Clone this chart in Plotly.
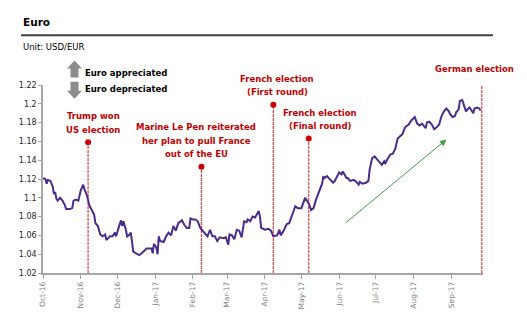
import plotly.graph_objects as go

# ---------------- data ----------------
dates = [
    "2016-10-01", "2016-10-03", "2016-10-04", "2016-10-05", "2016-10-07", "2016-10-09", "2016-10-10",
    "2016-10-11", "2016-10-12", "2016-10-13", "2016-10-15", "2016-10-17", "2016-10-19", "2016-10-20",
    "2016-10-23", "2016-10-25", "2016-10-26", "2016-10-28", "2016-10-30", "2016-11-01", "2016-11-03",
    "2016-11-04", "2016-11-06", "2016-11-08", "2016-11-10", "2016-11-12", "2016-11-13", "2016-11-15",
    "2016-11-17", "2016-11-19", "2016-11-21", "2016-11-22", "2016-11-25", "2016-11-27", "2016-11-29",
    "2016-11-30", "2016-12-02", "2016-12-04", "2016-12-05", "2016-12-06", "2016-12-08", "2016-12-09",
    "2016-12-11", "2016-12-12", "2016-12-13", "2016-12-14", "2016-12-16", "2016-12-19", "2016-12-21",
    "2016-12-23", "2016-12-25", "2016-12-29", "2016-12-30", "2016-12-31", "2017-01-02", "2017-01-03",
    "2017-01-04", "2017-01-05", "2017-01-08", "2017-01-10", "2017-01-12", "2017-01-14", "2017-01-16",
    "2017-01-18", "2017-01-20", "2017-01-23", "2017-01-25", "2017-01-27", "2017-01-29", "2017-01-30",
    "2017-02-01", "2017-02-03", "2017-02-05", "2017-02-07", "2017-02-09", "2017-02-12", "2017-02-13",
    "2017-02-15", "2017-02-17", "2017-02-19", "2017-02-21", "2017-02-23", "2017-02-26", "2017-02-28",
    "2017-03-02", "2017-03-03", "2017-03-05", "2017-03-07", "2017-03-09", "2017-03-11", "2017-03-13",
    "2017-03-15", "2017-03-17", "2017-03-18", "2017-03-20", "2017-03-22", "2017-03-24", "2017-03-27",
    "2017-03-28", "2017-03-29", "2017-04-01", "2017-04-04", "2017-04-06", "2017-04-08", "2017-04-11",
    "2017-04-13", "2017-04-14", "2017-04-16", "2017-04-19", "2017-04-21", "2017-04-24", "2017-04-26",
    "2017-04-28", "2017-05-01", "2017-05-04", "2017-05-07", "2017-05-09", "2017-05-11", "2017-05-13",
    "2017-05-16", "2017-05-18", "2017-05-19", "2017-05-20", "2017-05-22", "2017-05-24", "2017-05-27",
    "2017-05-28", "2017-05-30", "2017-06-01", "2017-06-03", "2017-06-04", "2017-06-07", "2017-06-08",
    "2017-06-10", "2017-06-13", "2017-06-15", "2017-06-17", "2017-06-18", "2017-06-20", "2017-06-23",
    "2017-06-25", "2017-06-26", "2017-06-28", "2017-06-30", "2017-07-02", "2017-07-04", "2017-07-06",
    "2017-07-08", "2017-07-09", "2017-07-11", "2017-07-13", "2017-07-15", "2017-07-17", "2017-07-19",
    "2017-07-21", "2017-07-23", "2017-07-25", "2017-07-28", "2017-07-30", "2017-08-01", "2017-08-02",
    "2017-08-04", "2017-08-06", "2017-08-08", "2017-08-09", "2017-08-11", "2017-08-12", "2017-08-14",
    "2017-08-16", "2017-08-18", "2017-08-20", "2017-08-22", "2017-08-24", "2017-08-26", "2017-08-28",
    "2017-08-30", "2017-08-31", "2017-09-02", "2017-09-04", "2017-09-05", "2017-09-07", "2017-09-08",
    "2017-09-10", "2017-09-11", "2017-09-13", "2017-09-15", "2017-09-16", "2017-09-18", "2017-09-19",
    "2017-09-20", "2017-09-22", "2017-09-24", "2017-09-25",
]
rates = [
    1.121, 1.120, 1.115, 1.119, 1.118, 1.112, 1.104,
    1.106, 1.099, 1.097, 1.100, 1.097, 1.092, 1.088,
    1.088, 1.089, 1.097, 1.098, 1.097, 1.108, 1.114,
    1.109, 1.103, 1.092, 1.087, 1.082, 1.073, 1.070,
    1.061, 1.059, 1.061, 1.055, 1.059, 1.059, 1.063,
    1.059, 1.068, 1.076, 1.070, 1.075, 1.066, 1.059,
    1.061, 1.063, 1.054, 1.043, 1.041, 1.039, 1.041,
    1.044, 1.046, 1.046, 1.041, 1.051, 1.047, 1.040,
    1.059, 1.054, 1.053, 1.059, 1.063, 1.060, 1.070,
    1.065, 1.073, 1.076, 1.071, 1.068, 1.068, 1.078,
    1.077, 1.077, 1.075, 1.068, 1.065, 1.061, 1.059,
    1.066, 1.059, 1.059, 1.054, 1.058, 1.057, 1.058,
    1.050, 1.061, 1.060, 1.056, 1.066, 1.065, 1.058,
    1.075, 1.074, 1.077, 1.075, 1.080, 1.079, 1.086,
    1.080, 1.068, 1.066, 1.067, 1.065, 1.059, 1.060,
    1.066, 1.060, 1.064, 1.072, 1.073, 1.084, 1.091,
    1.089, 1.089, 1.100, 1.094, 1.087, 1.089, 1.098,
    1.108, 1.115, 1.123, 1.121, 1.123, 1.120, 1.116,
    1.117, 1.122, 1.127, 1.125, 1.128, 1.121, 1.121,
    1.118, 1.119, 1.117, 1.114, 1.117, 1.115, 1.116,
    1.118, 1.130, 1.142, 1.144, 1.141, 1.137, 1.135,
    1.139, 1.137, 1.142, 1.146, 1.147, 1.152, 1.163,
    1.165, 1.168, 1.175, 1.178, 1.182, 1.185, 1.186,
    1.179, 1.177, 1.179, 1.177, 1.174, 1.180, 1.181,
    1.178, 1.173, 1.175, 1.178, 1.187, 1.192, 1.195,
    1.192, 1.189, 1.186, 1.187, 1.191, 1.194, 1.203,
    1.204, 1.199, 1.192, 1.195, 1.196, 1.192, 1.190,
    1.195, 1.196, 1.195, 1.193,
]

tick_dates = ["2016-10-01", "2016-11-01", "2016-12-01", "2017-01-01", "2017-02-01", "2017-03-01",
              "2017-04-01", "2017-05-01", "2017-06-01", "2017-07-01", "2017-08-01", "2017-09-01"]
tick_labels = ["Oct-16", "Nov-16", "Dec-16", "Jan-17", "Feb-17", "Mar-17",
               "Apr-17", "May-17", "Jun-17", "Jul-17", "Aug-17", "Sep-17"]
y_ticks = [1.02, 1.04, 1.06, 1.08, 1.10, 1.12, 1.14, 1.16, 1.18, 1.20, 1.22]
y_tick_labels = ["1.02", "1.04", "1.06", "1.08", "1.1", "1.12", "1.14", "1.16", "1.18", "1.2", "1.22"]

event_dates = ["2016-11-07", "2017-02-08", "2017-04-08", "2017-05-07", "2017-09-26"]
event_tops = [1.159, 1.133, 1.199, 1.163, 1.224]
event_labels = [
    ["Trump won", "US election"],
    ["Marine Le Pen reiterated", "her plan to pull France", "out of the EU"],
    ["French election", "(First round)"],
    ["French election", "(Final round)"],
    ["German election"],
]

trend_start = ["2017-06-05", 1.072]
trend_end = ["2017-08-28", 1.162]

# ---------------- layout geometry / styles ----------------
FIG_W, FIG_H = 527, 321
ML, MR, MT, MB = 43, 44, 85, 43
PW, PH = FIG_W - ML - MR, FIG_H - MT - MB
Y_MIN, Y_MAX = 1.02, 1.22
X_RANGE = ["2016-10-01", "2017-09-27"]
label_xshift = [5, -5, 4, 11, -7]

FONT = "DejaVu Sans"
RED_TXT = "#C00000"
RED_LINE = "#F03A3A"
LINE_COL = "#4B2C8C"


def px(xp):
    return (xp - ML) / PW


def py(yp):
    return (FIG_H - MB - yp) / PH


fig = go.Figure()

# event lines
for d, top in zip(event_dates, event_tops):
    fig.add_trace(go.Scatter(
        x=[d, d], y=[Y_MIN, top], mode="lines",
        line=dict(color=RED_LINE, width=1.2, dash="3px,1px"),
        hoverinfo="skip", showlegend=False))

# main series
fig.add_trace(go.Scatter(
    x=dates, y=rates, mode="lines",
    line=dict(color=LINE_COL, width=2),
    showlegend=False))

# event dots
fig.add_trace(go.Scatter(
    x=event_dates, y=event_tops, mode="markers",
    marker=dict(color="#CC0000", size=6),
    cliponaxis=False, hoverinfo="skip", showlegend=False))

annotations = []
for d, top, lines, xs in zip(event_dates, event_tops, event_labels, label_xshift):
    for j, txt in enumerate(reversed(lines)):
        annotations.append(dict(
            x=d, xref="x", y=(top - Y_MIN) / (Y_MAX - Y_MIN), yref="paper",
            text="<b>%s</b>" % txt, showarrow=False,
            xanchor="center", yanchor="middle",
            xshift=xs, yshift=12.5 + 13.5 * j,
            font=dict(family=FONT, size=8.5, color=RED_TXT)))

# trend arrow
annotations.append(dict(
    x=trend_end[0], y=trend_end[1], xref="x", yref="y",
    ax=trend_start[0], ay=trend_start[1], axref="x", ayref="y",
    text="", showarrow=True, arrowhead=2, arrowsize=1.3, arrowwidth=1,
    arrowcolor="#3E9B4C"))

# title, unit, legend texts
annotations += [
    dict(x=px(21), y=py(20), xref="paper", yref="paper", text="<b>Euro</b>",
         showarrow=False, xanchor="left", yanchor="middle",
         font=dict(family=FONT, size=10.5, color="#000000")),
    dict(x=px(21), y=py(46), xref="paper", yref="paper", text="Unit: USD/EUR",
         showarrow=False, xanchor="left", yanchor="middle",
         font=dict(family=FONT, size=8.5, color="#000000")),
    dict(x=px(83), y=py(72.5), xref="paper", yref="paper", text="<b>Euro appreciated</b>",
         showarrow=False, xanchor="left", yanchor="middle",
         font=dict(family=FONT, size=8.5, color="#000000")),
    dict(x=px(83), y=py(89.5), xref="paper", yref="paper", text="<b>Euro depreciated</b>",
         showarrow=False, xanchor="left", yanchor="middle",
         font=dict(family=FONT, size=8.5, color="#000000")),
]

up_path = "M -4,-8.5 L 4,-8.5 L 4,0.5 L 7.5,0.5 L 0,8.5 L -7.5,0.5 L -4,0.5 Z"
down_path = "M -4,8.5 L 4,8.5 L 4,-0.5 L 7.5,-0.5 L 0,-8.5 L -7.5,-0.5 L -4,-0.5 Z"
shapes = [
    dict(type="line", xref="paper", yref="paper", x0=px(21), x1=px(493), y0=py(34), y1=py(34),
         line=dict(color="#404040", width=2)),
    dict(type="path", xref="paper", yref="paper", xsizemode="pixel", ysizemode="pixel",
         xanchor=px(74.5), yanchor=py(68.5), path=up_path,
         fillcolor="#8C8C8C", line=dict(width=0)),
    dict(type="path", xref="paper", yref="paper", xsizemode="pixel", ysizemode="pixel",
         xanchor=px(74.5), yanchor=py(90.5), path=down_path,
         fillcolor="#8C8C8C", line=dict(width=0)),
]

fig.update_layout(
    width=FIG_W, height=FIG_H,
    margin=dict(l=ML, r=MR, t=MT, b=MB, pad=0),
    paper_bgcolor="white", plot_bgcolor="white",
    showlegend=False,
    annotations=annotations, shapes=shapes,
    xaxis=dict(
        type="date", range=X_RANGE, tickvals=tick_dates, ticktext=tick_labels,
        tickangle=-90, tickfont=dict(family=FONT, size=7.5, color="#7F7F7F"),
        showgrid=False, zeroline=False, showline=True, linecolor="#A6A6A6", linewidth=1.5,
        ticks="outside", ticklen=4, tickcolor="#A6A6A6", tickwidth=1),
    yaxis=dict(
        range=[Y_MIN, Y_MAX], tickvals=y_ticks, ticktext=y_tick_labels,
        tickfont=dict(family=FONT, size=8, color="#262626"),
        showgrid=False, zeroline=False, showline=True, linecolor="#A6A6A6", linewidth=1.5,
        ticks="outside", ticklen=3, tickcolor="#A6A6A6", tickwidth=1),
)

fig.write_html("out.html")
